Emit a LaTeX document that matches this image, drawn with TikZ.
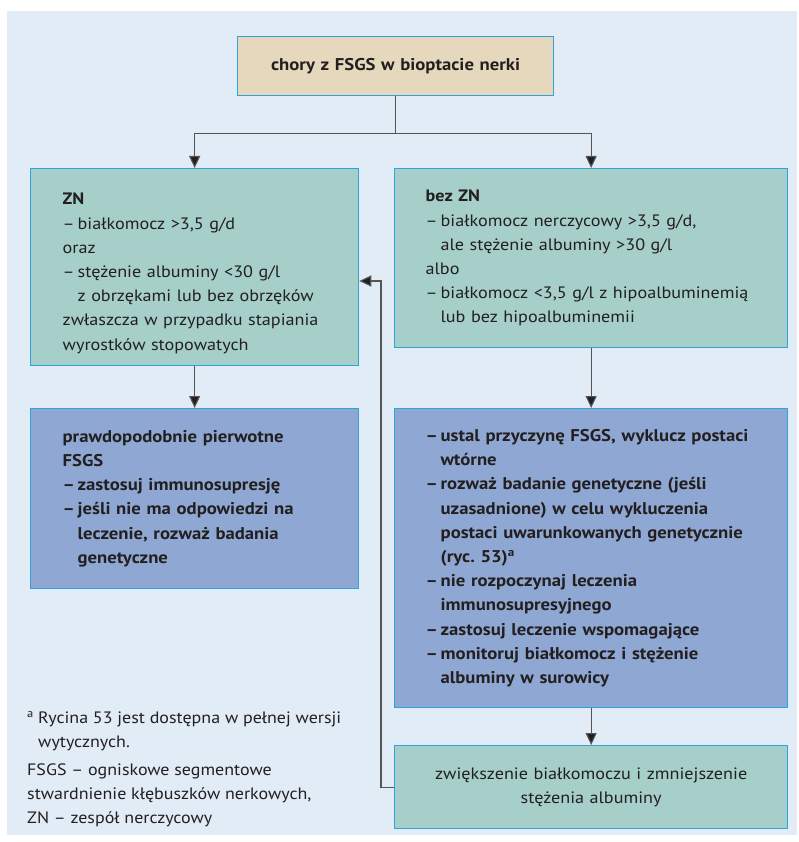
\documentclass[tikz,border=0pt]{standalone}
\usepackage{fontspec}
\setmainfont[FakeStretch=1.1]{PT Sans}
\newfontfamily\notefont[FakeStretch=1.09]{PT Sans}
\usetikzlibrary{arrows.meta,calc}

\definecolor{pagebg}{HTML}{E1ECF7}
\definecolor{tanfill}{HTML}{E6D8BD}
\definecolor{tealfill}{HTML}{A6CFCA}
\definecolor{bluefill}{HTML}{8FA8D3}
\definecolor{edge}{HTML}{2FA3DD}
\definecolor{wire}{HTML}{555555}
\definecolor{ink}{HTML}{231F20}

% list helpers: dash with hanging indent, and indented continuation line
\newcommand\dashitem[1]{\makebox[15pt][l]{–}#1}
\newcommand\contline[1]{\hspace*{15pt}#1}

\tikzset{
  box/.style={draw=edge, line width=1.3pt, anchor=north west, inner ysep=0pt,
    align=left, text=ink, font=\fontsize{16.5}{24.2}\selectfont},
  tealbox/.style={box, fill=tealfill},
  bluebox/.style={box, fill=bluefill, font=\fontsize{17}{24.2}\selectfont\bfseries},
  link/.style={draw=wire, line width=1.1pt, -{Triangle[length=12pt,width=11pt,fill=ink]}},
  plainlink/.style={draw=wire, line width=1.1pt},
  note/.style={anchor=north west, inner sep=0pt, align=left, text=ink,
    font=\notefont\fontsize{16.5}{24}\selectfont}
}

\begin{document}
\frenchspacing
\begin{tikzpicture}[x=1pt,y=-1pt]
\useasboundingbox (0,0) rectangle (798,842);
\fill[pagebg] (7,11) rectangle (797,835);

% start
\node[box, fill=tanfill, align=center, inner xsep=0pt, text width=316pt,
  minimum height=59pt, font=\fontsize{17}{24.2}\selectfont\bfseries]
  (top) at (237,36) {chory z FSGS w bioptacie nerki};

% first split
\node[tealbox, inner xsep=32pt, text width=264pt, minimum height=197pt] (lg) at (30,168) {%
  \rule{0pt}{24pt}\textbf{ZN}\\
  \dashitem{białkomocz >3,5 g/d}\\
  oraz\\
  \dashitem{stężenie albuminy <30 g/l}\\
  \contline{z obrzękami lub bez obrzęków}\\
  zwłaszcza w przypadku stapiania\\
  wyrostków stopowatych};

\node[tealbox, inner xsep=31pt, text width=331pt, minimum height=179pt] (rg) at (394,168) {%
  \textbf{bez ZN}\\
  \dashitem{białkomocz nerczycowy >3,5 g/d,}\\
  \contline{ale stężenie albuminy >30 g/l}\\
  albo\\
  \dashitem{białkomocz <3,5 g/l z hipoalbuminemią}\\
  \contline{lub bez hipoalbuminemii}};

% recommendations
\node[bluebox, inner xsep=32pt, text width=264pt, minimum height=180pt] (lb) at (30,408) {%
  prawdopodobnie pierwotne\\
  FSGS\\
  \dashitem{zastosuj immunosupresję}\\
  \dashitem{jeśli nie ma odpowiedzi na}\\
  \contline{leczenie, rozważ badania}\\
  \contline{genetyczne}};

\node[bluebox, inner xsep=31pt, text width=331pt, minimum height=299pt] (rb) at (394,408) {%
  \dashitem{ustal przyczynę FSGS, wyklucz postaci}\\
  \contline{wtórne}\\
  \dashitem{rozważ badanie genetyczne (jeśli}\\
  \contline{uzasadnione) w celu wykluczenia}\\
  \contline{postaci uwarunkowanych genetycznie}\\
  \contline{(ryc. 53)\textsuperscript{a}}\\
  \dashitem{nie rozpoczynaj leczenia}\\
  \contline{immunosupresyjnego}\\
  \dashitem{zastosuj leczenie wspomagające}\\
  \dashitem{monitoruj białkomocz i stężenie}\\
  \contline{albuminy w surowicy}};

\node[tealbox, align=center, inner xsep=0pt, text width=393pt, minimum height=83pt] (bot) at (394,745) {%
  zwiększenie białkomoczu i zmniejszenie\\
  stężenia albuminy};

% connectors
\draw[plainlink] (top.south) -- ++(0,37) coordinate (fork);
\draw[link] (fork) -| (lg.north);
\draw[link] (fork) -| (rg.north);
\draw[link] (lg.south) -- (lb.north);
\draw[link] (rg.south) -- (rb.north);
\draw[link] (rb.south) -- (bot.north);
\coordinate (turn) at (381,281);
\draw[link] (bot.west) -| (turn) -- (turn -| lg.east);

% footnotes
\node[note] (fn1) at (27,711) {%
  \makebox[11pt][l]{\textsuperscript{a}}Rycina 53 jest dostępna w pełnej wersji\\
  \hspace*{11pt}wytycznych.};
\node[note] (fn2) at (27,764) {%
  FSGS – ogniskowe segmentowe\\
  stwardnienie kłębuszków nerkowych,\\
  ZN – zespół nerczycowy};
\end{tikzpicture}
\end{document}
